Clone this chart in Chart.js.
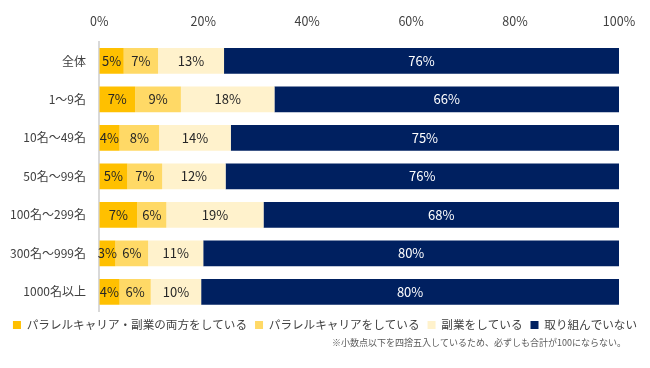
<!DOCTYPE html>
<html lang="ja">
<head>
<meta charset="utf-8">
<title>パラレルキャリア・副業の実施状況（企業規模別）</title>
<script src="https://cdn.jsdelivr.net/npm/chart.js@4.4.1/dist/chart.umd.min.js"></script>
<style>
  html, body { margin: 0; padding: 0; background: #fff; }
  .wrap { width: 650px; height: 368px; position: relative; }
</style>
</head>
<body>
<div class="wrap"><canvas id="careerChart"></canvas></div>
<script>
/* ---------- Data ---------- */
const categories = ['全体', '1～9名', '10名～49名', '50名～99名', '100名～299名', '300名～999名', '1000名以上'];
const seriesNames = ['パラレルキャリア・副業の両方をしている', 'パラレルキャリアをしている', '副業をしている', '取り組んでいない'];
const bothValues     = [4.7, 6.9, 3.9, 5.4, 7.3, 3.1, 3.9];
const parallelValues = [6.6, 8.8, 7.6, 6.7, 5.6, 6.3, 6.0];
const sideJobValues  = [12.7, 18.0, 13.8, 12.2, 18.7, 10.6, 9.7];
const noneValues     = [76.0, 66.3, 74.7, 75.7, 68.4, 80.0, 80.4];
const xTicks = [0, 20, 40, 60, 80, 100];
const footnote = '※小数点以下を四捨五入しているため、必ずしも合計が100にならない。';

/* ---------- Styles ---------- */
const FONT = '"Noto Sans CJK JP", "Noto Sans", sans-serif';
const colors = ['#FFC000', '#FFD966', '#FFF2CC', '#002060'];
const labelColors = ['#262626', '#262626', '#262626', '#FFFFFF'];
const ink = '#404040';

const seriesValues = [bothValues, parallelValues, sideJobValues, noneValues];

// value labels centred on each segment
const barLabels = {
  id: 'barLabels',
  afterDatasetsDraw(chart) {
    const { ctx } = chart;
    ctx.save();
    ctx.font = '13px ' + FONT;
    ctx.textAlign = 'center';
    ctx.textBaseline = 'middle';
    chart.data.datasets.forEach((ds, i) => {
      chart.getDatasetMeta(i).data.forEach((bar, j) => {
        ctx.fillStyle = labelColors[i];
        ctx.fillText(Math.round(ds.data[j]) + '%', (bar.x + bar.base) / 2, bar.y);
      });
    });
    ctx.restore();
  }
};

// footnote under the legend
const footnotePlugin = {
  id: 'footnote',
  afterDraw(chart) {
    const { ctx } = chart;
    ctx.save();
    ctx.font = '9px ' + FONT;
    ctx.fillStyle = '#595959';
    ctx.textAlign = 'right';
    ctx.textBaseline = 'middle';
    ctx.fillText(footnote, 626, 342.7);
    ctx.restore();
  }
};

new Chart(document.getElementById('careerChart'), {
  type: 'bar',
  data: {
    labels: categories,
    datasets: seriesValues.map((vals, i) => ({
      label: seriesNames[i],
      data: vals,
      backgroundColor: colors[i],
      borderWidth: 0,
      barPercentage: 0.67,
      categoryPercentage: 1
    }))
  },
  options: {
    indexAxis: 'y',
    responsive: true,
    maintainAspectRatio: false,
    animation: false,
    layout: { padding: { left: 0, right: 0, top: 0, bottom: 27.25 } },
    plugins: {
      tooltip: { enabled: false },
      legend: {
        position: 'bottom',
        align: 'center',
        labels: {
          boxWidth: 8, boxHeight: 8, padding: 8,
          color: ink,
          font: { family: FONT, size: 11.6 }
        }
      }
    },
    scales: {
      x: {
        position: 'top',
        stacked: true,
        min: 0, max: 100,
        afterBuildTicks: s => { s.ticks = xTicks.map(v => ({ value: v })); },
        afterFit: s => { s.height = 41.7; s.paddingRight = 31; },
        grid: { display: false, drawTicks: false },
        border: { display: false },
        ticks: { padding: 12.5, color: ink, font: { family: FONT, size: 12.5 }, callback: v => v + '%' }
      },
      y: {
        stacked: true,
        afterFit: s => { s.width = 99.3; },
        grid: { display: false, drawTicks: false },
        border: { display: true, color: '#D9D9D9', width: 2 },
        ticks: { padding: 13.3, color: ink, font: { family: FONT, size: 12 } }
      }
    }
  },
  plugins: [barLabels, footnotePlugin]
});
</script>
</body>
</html>
